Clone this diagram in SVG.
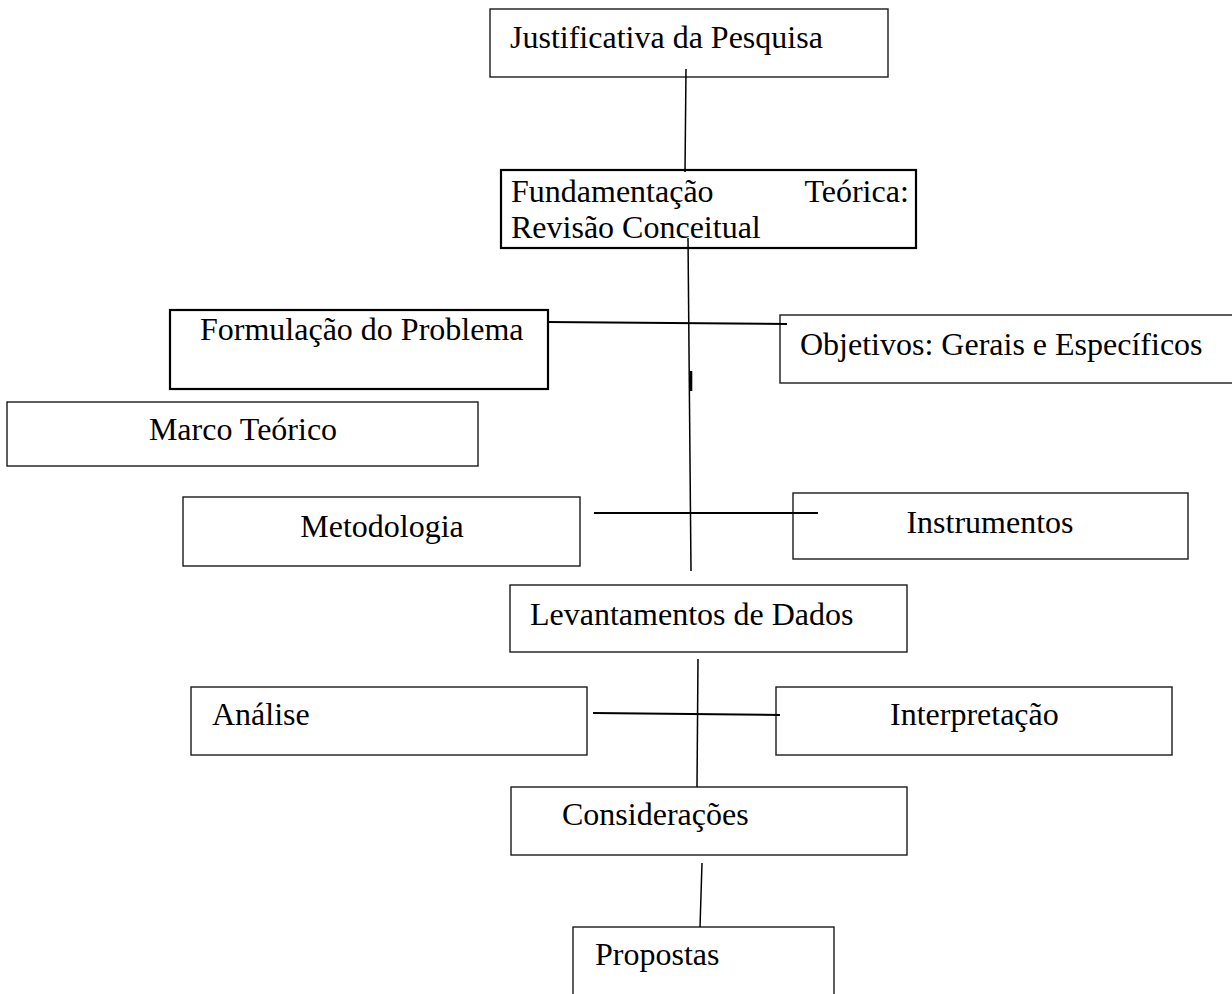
<svg xmlns="http://www.w3.org/2000/svg" width="1232" height="994" viewBox="0 0 1232 994">
<style>
.box{fill:#fff;stroke:#1a1a1a;stroke-width:1.4}
.bold{stroke:#000;stroke-width:2.2}
.lbl{font-family:"Liberation Serif","Times New Roman",serif;font-size:32px;fill:#000}
.c{text-anchor:middle}
.ln{stroke:#000;stroke-width:1.5;fill:none}
</style>
<rect width="1232" height="994" fill="#fff"/>
<g id="n-justificativa"><rect class="box" x="490" y="9" width="398" height="68"/><text class="lbl" x="510" y="48">Justificativa da Pesquisa</text></g>
<g id="n-fundamentacao"><rect class="box bold" x="501" y="170" width="415" height="78"/><text class="lbl"><tspan x="511" y="202">Fundamentação</tspan><tspan x="797" y="202"> Teórica:</tspan><tspan x="511" y="238">Revisão Conceitual</tspan></text></g>
<g id="n-formulacao"><rect class="box bold" x="170" y="310" width="378" height="79"/><text class="lbl" x="200" y="340">Formulação do Problema</text></g>
<g id="n-objetivos"><rect class="box" x="780" y="315" width="460" height="68"/><text class="lbl" x="800" y="355">Objetivos: Gerais e Específicos</text></g>
<g id="n-marco"><rect class="box" x="7" y="402" width="471" height="64"/><text class="lbl c" x="243" y="440">Marco Teórico</text></g>
<g id="n-metodologia"><rect class="box" x="183" y="497" width="397" height="69"/><text class="lbl c" x="382" y="537">Metodologia</text></g>
<g id="n-instrumentos"><rect class="box" x="793" y="493" width="395" height="66"/><text class="lbl c" x="990" y="533">Instrumentos</text></g>
<g id="n-levantamentos"><rect class="box" x="510" y="585" width="397" height="67"/><text class="lbl" x="530" y="625">Levantamentos de Dados</text></g>
<g id="n-analise"><rect class="box" x="191" y="687" width="396" height="68"/><text class="lbl" x="212" y="725">Análise</text></g>
<g id="n-interpretacao"><rect class="box" x="776" y="687" width="396" height="68"/><text class="lbl" x="890" y="725">Interpretação</text></g>
<g id="n-consideracoes"><rect class="box" x="511" y="787" width="396" height="68"/><text class="lbl" x="562" y="825">Considerações</text></g>
<g id="n-propostas"><rect class="box" x="573" y="927" width="261" height="80"/><text class="lbl" x="595" y="965">Propostas</text></g>
<g id="connectors">
<line class="ln" x1="686" y1="69" x2="685" y2="172"/>
<line class="ln" x1="688" y1="238" x2="691" y2="571"/>
<line class="ln" x1="691" y1="371" x2="691" y2="391" style="stroke-width:2.6"/>
<line class="ln" x1="547" y1="322" x2="787" y2="324" style="stroke-width:2"/>
<line class="ln" x1="594" y1="513" x2="818" y2="513" style="stroke-width:2"/>
<line class="ln" x1="698" y1="659" x2="697" y2="787"/>
<line class="ln" x1="593" y1="713" x2="780" y2="715" style="stroke-width:2"/>
<line class="ln" x1="702" y1="863" x2="700" y2="927"/>
</g>
</svg>
